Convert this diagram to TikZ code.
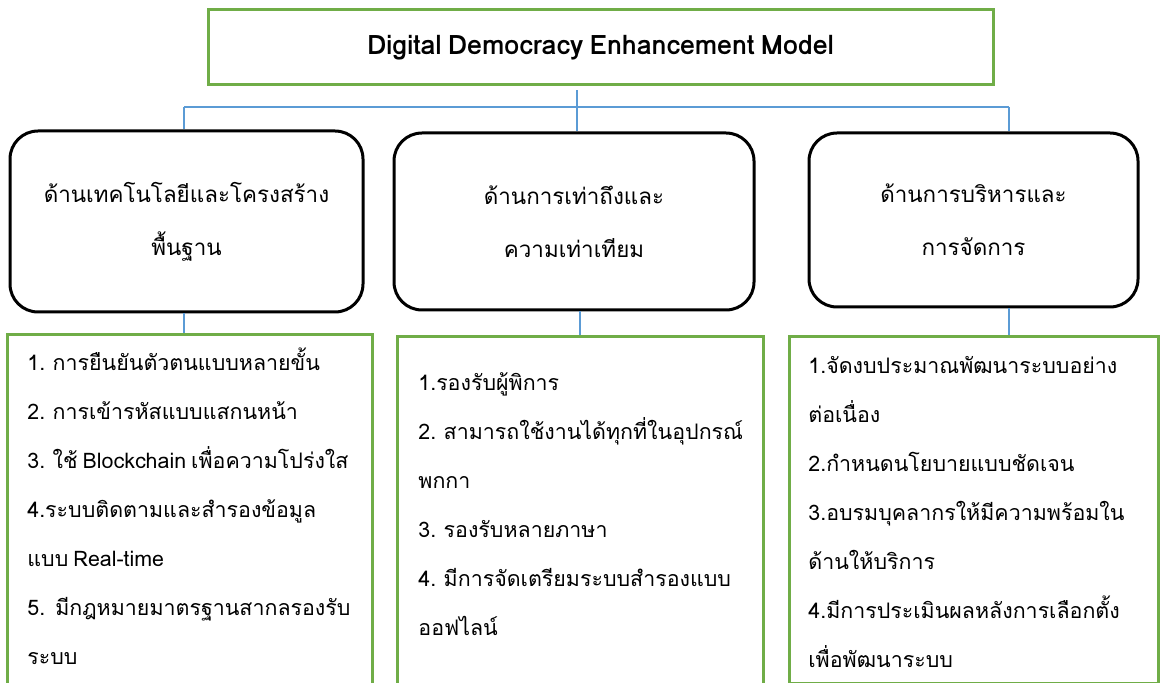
\documentclass[tikz,border=0pt]{standalone}
\usepackage{fontspec}
\setmainfont[Script=Thai,WordSpace=0.7]{Loma}
\usetikzlibrary{positioning}
\definecolor{boxgreen}{HTML}{70AD47}
\definecolor{linkblue}{HTML}{5B9BD5}
\tikzset{
	titlebox/.style={draw=boxgreen,line width=1.5pt,minimum width=392.5pt,minimum height=37.5pt,font=\fontsize{13.4}{15}\selectfont\bfseries},
	sidebox/.style={draw=black,line width=1.5pt,rounded corners=14pt,align=center,font=\fontsize{11.2}{27.5}\selectfont},
	listbox/.style={draw=boxgreen,line width=1.5pt,anchor=north},
	listtext/.style={align=left,anchor=north west,inner sep=0pt,font=\fontsize{10.7}{24.5}\selectfont},
	link/.style={draw=linkblue,line width=0.6pt}
}
\begin{document}
\begin{tikzpicture}[x=0.5pt,y=-0.5pt]
		\useasboundingbox (0,0) rectangle (1161,683);
		\node[titlebox] (model) at (600.5,47.5) {Digital Democracy Enhancement Model};
		
		\node[sidebox,minimum width=176.5pt,minimum height=90.5pt] (tech) at (186.5,221.5) {ด้านเทคโนโลยีและโครงสร้าง\\[-1pt]พื้นฐาน};
		\node[sidebox,minimum width=180pt,minimum height=88.5pt] (access) at (574,221.5) {ด้านการเท่าถึงและ\\[-1pt]ความเท่าเทียม};
		\node[sidebox,minimum width=164.5pt,minimum height=87pt] (admin) at (973.5,220) {ด้านการบริหารและ\\[-1pt]การจัดการ};
		
		\node[listbox,minimum width=182.5pt,minimum height=200pt] (techlist) at (189.5,333) {};
		\node[listbox,minimum width=183pt,minimum height=200pt] (accesslist) at (580,335) {};
		\node[listbox,minimum width=184.5pt,minimum height=173.5pt] (adminlist) at (973.5,335) {};
		
		\node[listtext] (techitems) at (27,347) {1. การยืนยันตัวตนแบบหลายขั้น\\2. การเข้ารหัสแบบแสกนหน้า\\3. ใช้ Blockchain เพื่อความโปร่งใส\\4.ระบบติดตามและสำรองข้อมูล\\แบบ Real-time\\5.\ \ มีกฎหมายมาตรฐานสากลรองรับ\\ระบบ};
		\node[listtext] (accessitems) at (418,372) {1.รองรับผู้พิการ\\2. สามารถใช้งานได้ทุกที่ในอุปกรณ์\\พกกา\\3. รองรับหลายภาษา\\4. มีการจัดเตรียมระบบสำรองแบบ\\ออฟไลน์};
		\node[listtext] (adminitems) at (808,356) {1.จัดงบประมาณพัฒนาระบบอย่าง\\ต่อเนื่อง\\2.กำหนดนโยบายแบบชัดเจน\\3.อบรมบุคลากรให้มีความพร้อมใน\\ด้านให้บริการ\\4.มีการประเมินผลหลังการเลือกตั้ง\\เพื่อพัฒนาระบบ};
		
		\coordinate (busL) at (184,107);
		\coordinate (busM) at (577,107);
		\coordinate (busR) at (1009,107);
		
		\path[link] (busL) edge (busR);
		\path[link] (model.south -| busM) edge[shorten <=2pt] (access.north -| busM);
		\path[link] (busL) edge (tech.north -| busL);
		\path[link] (busR) edge (admin.north -| busR);
		\path[link] (tech.south -| busL) edge (techlist.north -| busL);
		\path[link] (access.south -| accesslist.north) edge (accesslist.north);
		\path[link] (admin.south -| busR) edge (adminlist.north -| busR);
		\end{tikzpicture}
\end{document}
